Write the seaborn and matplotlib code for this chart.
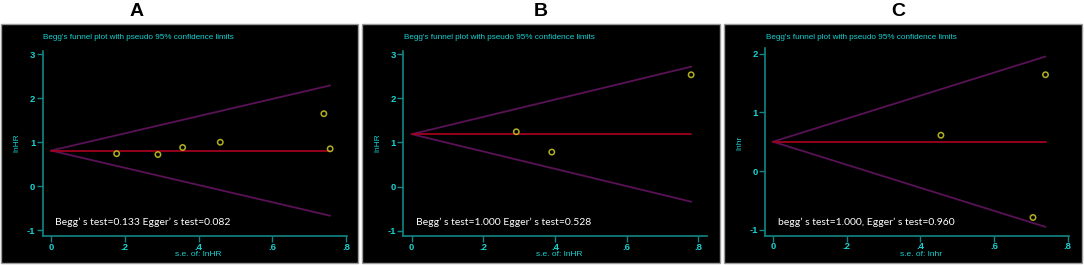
import numpy as np
import pandas as pd
import matplotlib
matplotlib.use("Agg")
import matplotlib.pyplot as plt
import seaborn as sns
from matplotlib.patches import Rectangle

sns.set_theme(style="white")
plt.rcParams['font.family'] = ['Liberation Sans', 'DejaVu Sans']

# ---- data ----
panel_letters = ["A", "B", "C"]
se_A = [0.178, 0.290, 0.357, 0.459, 0.740, 0.757]
eff_A = [0.74, 0.72, 0.88, 1.00, 1.65, 0.85]
pooled_A = 0.81
se_B = [0.292, 0.391, 0.780]
eff_B = [1.24, 0.78, 2.53]
pooled_B = 1.185
se_C = [0.456, 0.706, 0.740]
eff_C = [0.61, -0.79, 1.64]
pooled_C = 0.50
ylabels = ["lnHR", "lnHR", "lnhr"]
xlabels = ["s.e. of: lnHR", "s.e. of: lnHR", "s.e. of: lnhr"]
notes = ["Begg\u2019 s test=0.133 Egger\u2019 s test=0.082",
         "Begg\u2019 s test=1.000 Egger\u2019 s test=0.528",
         "begg\u2019 s test=1.000, Egger\u2019 s test=0.960"]
title_text = "Begg's funnel plot with pseudo 95% confidence limits"
yticks_list = [[-1, 0, 1, 2, 3], [-1, 0, 1, 2, 3], [-1, 0, 1, 2]]
xticks = [0, 0.2, 0.4, 0.6, 0.8]
xtick_labels = ["0", ".2", ".4", ".6", ".8"]

W, H = 1084, 265
fig = plt.figure(figsize=(W / 100, H / 100), dpi=100)
fig.patch.set_facecolor("white")

# layout (pixels, top-origin)
boxes = [(1, 24, 358, 263), (362, 24, 720, 263), (724, 24, 1082, 263)]
axes_px = [(43, 50.5, 347, 236), (403.3, 50.5, 706.7, 236), (765.3, 48.3, 1068.7, 235.7)]
xlims = [(-0.0217, 0.8027), (-0.0234, 0.8234), (-0.021, 0.803)]
ylims = [(-1.136, 3.09), (-1.12, 3.08), (-1.10, 2.09)]
letter_x = [137, 541, 898]

teal = "#138585"
cyan = "#19d2d2"
purple = "#5a1256"
red = "#a0001c"
olive = "#b0b020"

def fx(px):
    return px / W

def fy(py):
    return 1 - py / H

datasets = [(se_A, eff_A, pooled_A), (se_B, eff_B, pooled_B), (se_C, eff_C, pooled_C)]

for i in range(3):
    x0, y0, x1, y1 = boxes[i]
    fig.patches.append(Rectangle((fx(x0), fy(y1)), fx(x1 - x0), (y1 - y0) / H,
                                 transform=fig.transFigure, facecolor="black",
                                 edgecolor="#9a9a9a", linewidth=1.0, zorder=-5))
    fig.text(fx(letter_x[i]), fy(12), panel_letters[i], ha="center", va="center",
             fontsize=14, fontweight="bold", color="black")
    fig.text(fx(x0 + 42), fy(37.5), title_text, ha="left", va="center",
             fontsize=5.9, color=cyan)

    ax0, ay0, ax1, ay1 = axes_px[i]
    ax = fig.add_axes([fx(ax0), fy(ay1), fx(ax1 - ax0), (ay1 - ay0) / H])
    ax.set_zorder(2)
    ax.set_facecolor("none")
    ax.patch.set_alpha(0)
    se, eff, pooled = datasets[i]
    se_max = max(se)
    grid = np.array([0.0, se_max])
    df_lines = pd.DataFrame({
        "se": np.concatenate([grid, grid, grid]),
        "val": np.concatenate([pooled + 1.96 * grid, pooled - 1.96 * grid,
                               np.full(2, pooled)]),
        "kind": ["upper"] * 2 + ["lower"] * 2 + ["pooled"] * 2,
    })
    sns.lineplot(data=df_lines, x="se", y="val", hue="kind",
                 palette={"upper": purple, "lower": purple, "pooled": red},
                 linewidth=1.3, legend=False, ax=ax, estimator=None, sort=False)
    df_pts = pd.DataFrame({"se": se, "eff": eff})
    sns.scatterplot(data=df_pts, x="se", y="eff", ax=ax, s=15, marker="o",
                    facecolor="none", edgecolor=olive, linewidth=1.1, zorder=5)

    ax.set_xlim(*xlims[i])
    ax.set_ylim(*ylims[i])
    for s in ["top", "right"]:
        ax.spines[s].set_visible(False)
    for s in ["left", "bottom"]:
        ax.spines[s].set_color(teal)
        ax.spines[s].set_linewidth(1.2)
    ax.set_xticks(xticks)
    ax.set_xticklabels(xtick_labels)
    ax.set_yticks(yticks_list[i])
    ax.set_yticklabels([str(t) for t in yticks_list[i]])
    ax.tick_params(axis="x", pad=0.8)
    ax.tick_params(axis="y", pad=1.5)
    ax.tick_params(axis="both", direction="out", length=4, width=1.0, color=teal,
                   labelcolor=cyan, labelsize=6.8, left=True, bottom=True)
    for lab in ax.get_xticklabels() + ax.get_yticklabels():
        lab.set_fontweight("bold")
    ax.set_xlabel("")
    ax.set_ylabel("")
    fig.text(fx(x0 + 16), fy(143), ylabels[i], rotation=90, ha="center", va="center",
             fontsize=6, color=cyan)
    fig.text(fx(x0 + 197), fy(254.5), xlabels[i], ha="center", va="center",
             fontsize=6, color=cyan)
    fig.text(fx(x0 + 54), fy(222.5), notes[i], ha="left", va="center",
             fontsize=7.5, color="white", family=["Lato", "DejaVu Sans"])

fig.savefig("out.png", dpi=100, facecolor="white")
